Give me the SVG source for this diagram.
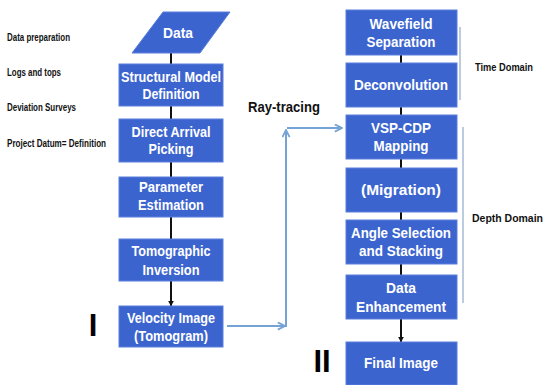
<svg xmlns="http://www.w3.org/2000/svg" width="544" height="385" viewBox="0 0 544 385">
<defs>
<style>
.box{fill:#3c64cf;stroke:#5a7fdc;stroke-width:1}
.bt{font-family:"Liberation Sans",Arial,sans-serif;font-weight:bold;font-size:14px;fill:#fff;text-anchor:middle}
.side{font-family:"Liberation Sans",Arial,sans-serif;font-weight:bold;font-size:10px;fill:#111}
.conn{stroke:#111;stroke-width:2;fill:none}
.blue{stroke:#76a3d6;stroke-width:2;fill:none}
.brk{stroke:#8fa9cc;stroke-width:1.2;fill:none}
.roman{font-family:"Liberation Sans",Arial,sans-serif;font-weight:bold;font-size:31px;fill:#000;text-anchor:middle}
</style>
<marker id="ah" viewBox="0 0 10 10" refX="9" refY="5" markerWidth="6" markerHeight="6" orient="auto" markerUnits="userSpaceOnUse">
<path d="M0,0 L10,5 L0,10 z" fill="#111"/>
</marker>
<marker id="ob" viewBox="0 0 10 10" refX="9" refY="5" markerWidth="9" markerHeight="9" orient="auto" markerUnits="userSpaceOnUse">
<path d="M1,1 L9,5 L1,9" fill="none" stroke="#76a3d6" stroke-width="2"/>
</marker>
</defs>
<rect width="544" height="385" fill="#fff"/>

<g id="side-labels">
<text class="side" x="7" y="41" textLength="63" lengthAdjust="spacingAndGlyphs">Data preparation</text>
<text class="side" x="7" y="76" textLength="54" lengthAdjust="spacingAndGlyphs">Logs and tops</text>
<text class="side" x="7" y="111" textLength="69" lengthAdjust="spacingAndGlyphs">Deviation Surveys</text>
<text class="side" x="7" y="147" textLength="99" lengthAdjust="spacingAndGlyphs">Project Datum= Definition</text>
</g>

<g id="connectors">
<line class="conn" x1="171" y1="53" x2="171" y2="64"/>
<line class="conn" x1="171" y1="106" x2="171" y2="119"/>
<line class="conn" x1="171" y1="162" x2="171" y2="177"/>
<line class="conn" x1="171" y1="217" x2="171" y2="239"/>
<line class="conn" x1="171" y1="281" x2="171" y2="306" marker-end="url(#ah)"/>
<line class="conn" x1="401" y1="55" x2="401" y2="63"/>
<line class="conn" x1="401" y1="107" x2="401" y2="115"/>
<line class="conn" x1="401" y1="159" x2="401" y2="168"/>
<line class="conn" x1="401" y1="212" x2="401" y2="220"/>
<line class="conn" x1="401" y1="264" x2="401" y2="275"/>
<line class="conn" x1="401" y1="319" x2="401" y2="342" marker-end="url(#ah)"/>
<line class="blue" x1="227" y1="326" x2="285" y2="326" marker-end="url(#ob)"/>
<line class="blue" x1="286" y1="327" x2="286" y2="130" marker-end="url(#ob)"/>
<line class="blue" x1="287" y1="128" x2="342" y2="128" marker-end="url(#ob)"/>
<line class="brk" x1="460" y1="27" x2="460" y2="100"/>
<line class="brk" x1="463" y1="127" x2="463" y2="303"/>
</g>

<g id="n-data">
<polygon class="box" points="163,12 230,12 200,53 132,53"/>
<text class="bt" x="178" y="38" textLength="30" lengthAdjust="spacingAndGlyphs">Data</text>
</g>
<g id="n-structural">
<rect class="box" x="119" y="64" width="104" height="42"/>
<text class="bt" x="171" y="82" textLength="100" lengthAdjust="spacingAndGlyphs">Structural Model</text>
<text class="bt" x="171" y="99" textLength="57" lengthAdjust="spacingAndGlyphs">Definition</text>
</g>
<g id="n-direct">
<rect class="box" x="119" y="119" width="104" height="43"/>
<text class="bt" x="171" y="137" textLength="79" lengthAdjust="spacingAndGlyphs">Direct Arrival</text>
<text class="bt" x="171" y="154" textLength="45" lengthAdjust="spacingAndGlyphs">Picking</text>
</g>
<g id="n-parameter">
<rect class="box" x="119" y="177" width="104" height="40"/>
<text class="bt" x="171" y="192" textLength="64" lengthAdjust="spacingAndGlyphs">Parameter</text>
<text class="bt" x="171" y="210" textLength="66" lengthAdjust="spacingAndGlyphs">Estimation</text>
</g>
<g id="n-tomographic">
<rect class="box" x="119" y="239" width="104" height="42"/>
<text class="bt" x="171" y="256" textLength="79" lengthAdjust="spacingAndGlyphs">Tomographic</text>
<text class="bt" x="171" y="275" textLength="57" lengthAdjust="spacingAndGlyphs">Inversion</text>
</g>
<g id="n-velocity">
<rect class="box" x="119" y="306" width="104" height="41"/>
<text class="bt" x="171" y="323" textLength="88" lengthAdjust="spacingAndGlyphs">Velocity Image</text>
<text class="bt" x="171" y="341" textLength="74" lengthAdjust="spacingAndGlyphs">(Tomogram)</text>
</g>

<g id="n-wavefield">
<rect class="box" x="346" y="10" width="111" height="45"/>
<text class="bt" x="401" y="29" textLength="63" lengthAdjust="spacingAndGlyphs">Wavefield</text>
<text class="bt" x="401" y="47" textLength="69" lengthAdjust="spacingAndGlyphs">Separation</text>
</g>
<g id="n-decon">
<rect class="box" x="346" y="63" width="111" height="44"/>
<text class="bt" x="401" y="90" textLength="94" lengthAdjust="spacingAndGlyphs">Deconvolution</text>
</g>
<g id="n-vspcdp">
<rect class="box" x="346" y="115" width="111" height="44"/>
<text class="bt" x="401" y="133" textLength="60" lengthAdjust="spacingAndGlyphs">VSP-CDP</text>
<text class="bt" x="401" y="151" textLength="55" lengthAdjust="spacingAndGlyphs">Mapping</text>
</g>
<g id="n-migration">
<rect class="box" x="346" y="168" width="111" height="44"/>
<text class="bt" x="401" y="195" textLength="80" lengthAdjust="spacingAndGlyphs">(Migration)</text>
</g>
<g id="n-angle">
<rect class="box" x="346" y="220" width="111" height="44"/>
<text class="bt" x="401" y="238" textLength="100" lengthAdjust="spacingAndGlyphs">Angle Selection</text>
<text class="bt" x="401" y="256" textLength="84" lengthAdjust="spacingAndGlyphs">and Stacking</text>
</g>
<g id="n-enhance">
<rect class="box" x="346" y="275" width="111" height="44"/>
<text class="bt" x="401" y="293" textLength="30" lengthAdjust="spacingAndGlyphs">Data</text>
<text class="bt" x="401" y="312" textLength="90" lengthAdjust="spacingAndGlyphs">Enhancement</text>
</g>
<g id="n-final">
<rect class="box" x="346" y="342" width="111" height="43"/>
<text class="bt" x="401" y="368" textLength="74" lengthAdjust="spacingAndGlyphs">Final Image</text>
</g>

<g id="labels">
<text x="248" y="112" font-family="Liberation Sans, Arial, sans-serif" font-weight="bold" font-size="15" fill="#111" textLength="72" lengthAdjust="spacingAndGlyphs">Ray-tracing</text>
<text class="side" x="475" y="71" textLength="58" lengthAdjust="spacingAndGlyphs">Time Domain</text>
<text class="side" x="472" y="222" textLength="71" lengthAdjust="spacingAndGlyphs">Depth Domain</text>
<text class="roman" x="93" y="336">I</text>
<text class="roman" x="322" y="372">II</text>
</g>
</svg>
